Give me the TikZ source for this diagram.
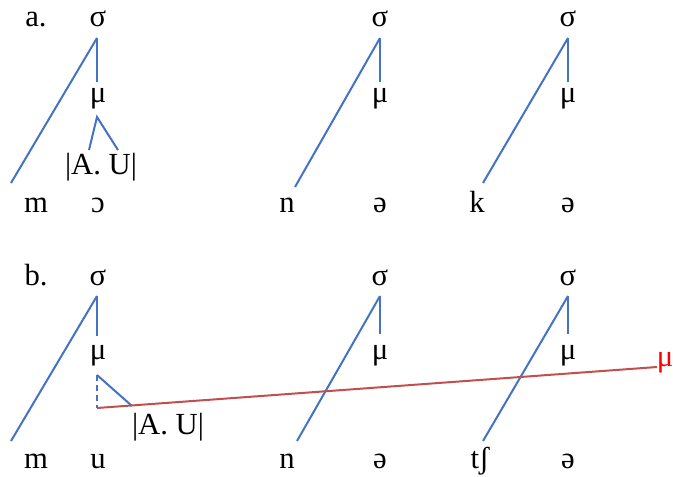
\documentclass[tikz,border=0pt]{standalone}
\usepackage{fontspec}
\setmainfont{Liberation Serif}
\definecolor{lblue}{HTML}{4472C4}
\definecolor{lred}{HTML}{C0504D}
\begin{document}
\begin{tikzpicture}[x=0.75pt,y=-0.75pt,
  txt/.style={anchor=base,inner sep=0pt,font=\fontsize{23}{26}\selectfont},
  br/.style={draw=lblue,line width=1.5pt},
  rl/.style={draw=lred,line width=1.5pt}]
\useasboundingbox (0,0) rectangle (673,477);
% ---------- row a ----------
\node[txt] (la) at (36,27) {a.};
\node[txt] (sa1) at (98,27) {σ};
\node[txt] (sa2) at (380,27) {σ};
\node[txt] (sa3) at (568,27) {σ};
\node[txt] (ma1) at (98,103) {μ};
\node[txt] (ma2) at (380,103) {μ};
\node[txt] (ma3) at (568,103) {μ};
\node[txt] (au1) at (101,175) {|A. U|};
\node[txt] (ca1) at (36,212) {m};
\node[txt] (va1) at (98,212) {ɔ};
\node[txt] (ca2) at (287,212) {n};
\node[txt] (va2) at (380,212) {ə};
\node[txt] (ca3) at (477,212) {k};
\node[txt] (va3) at (568,212) {ə};
\coordinate (ta1) at (97,38);
\coordinate (ta2) at (380,38);
\coordinate (ta3) at (568,38);
\coordinate (ea1) at (11,183);
\coordinate (ea2) at (295,187);
\coordinate (ea3) at (483,183);
\coordinate (ba1) at (97,82);
\coordinate (ba2) at (380,82);
\coordinate (ba3) at (568,82);
\coordinate (mu1) at (97,117);
\coordinate (fa1) at (89,150);
\coordinate (fa2) at (118,150);
\draw[br] (ta1) -- (ea1);
\draw[br] (ta1) -- (ba1);
\draw[br] (ta2) -- (ea2);
\draw[br] (ta2) -- (ba2);
\draw[br] (ta3) -- (ea3);
\draw[br] (ta3) -- (ba3);
\draw[br] (fa1) -- (mu1) -- (fa2);
% ---------- row b ----------
\node[txt] (lb) at (36,285) {b.};
\node[txt] (sb1) at (98,285) {σ};
\node[txt] (sb2) at (380,285) {σ};
\node[txt] (sb3) at (568,285) {σ};
\node[txt] (mb1) at (98,359) {μ};
\node[txt] (mb2) at (380,359) {μ};
\node[txt] (mb3) at (568,359) {μ};
\node[txt,text=red] (mr) at (665,366) {μ};
\node[txt] (au2) at (168,434) {|A. U|};
\node[txt] (cb1) at (36,468) {m};
\node[txt] (vb1) at (98,468) {u};
\node[txt] (cb2) at (287,468) {n};
\node[txt] (vb2) at (380,468) {ə};
\node[txt] (cb3) at (480,468) {tʃ};
\node[txt] (vb3) at (568,468) {ə};
\coordinate (tb1) at (97,296);
\coordinate (tb2) at (380,296);
\coordinate (tb3) at (568,296);
\coordinate (eb1) at (11,441);
\coordinate (eb2) at (297,441);
\coordinate (eb3) at (483,441);
\coordinate (bb1) at (97,336);
\coordinate (bb2) at (380,334);
\coordinate (bb3) at (568,334);
\coordinate (mub) at (97,375);
\coordinate (db) at (97,408);
\coordinate (fb) at (132,406);
\coordinate (re) at (657,367);
\draw[br] (tb1) -- (eb1);
\draw[br] (tb1) -- (bb1);
\draw[br] (tb2) -- (eb2);
\draw[br] (tb2) -- (bb2);
\draw[br] (tb3) -- (eb3);
\draw[br] (tb3) -- (bb3);
\draw[br,dash pattern=on 4.5pt off 3pt] (mub) -- (db);
\draw[br] (mub) -- (fb);
\draw[rl] (db) -- (re);
\end{tikzpicture}
\end{document}
